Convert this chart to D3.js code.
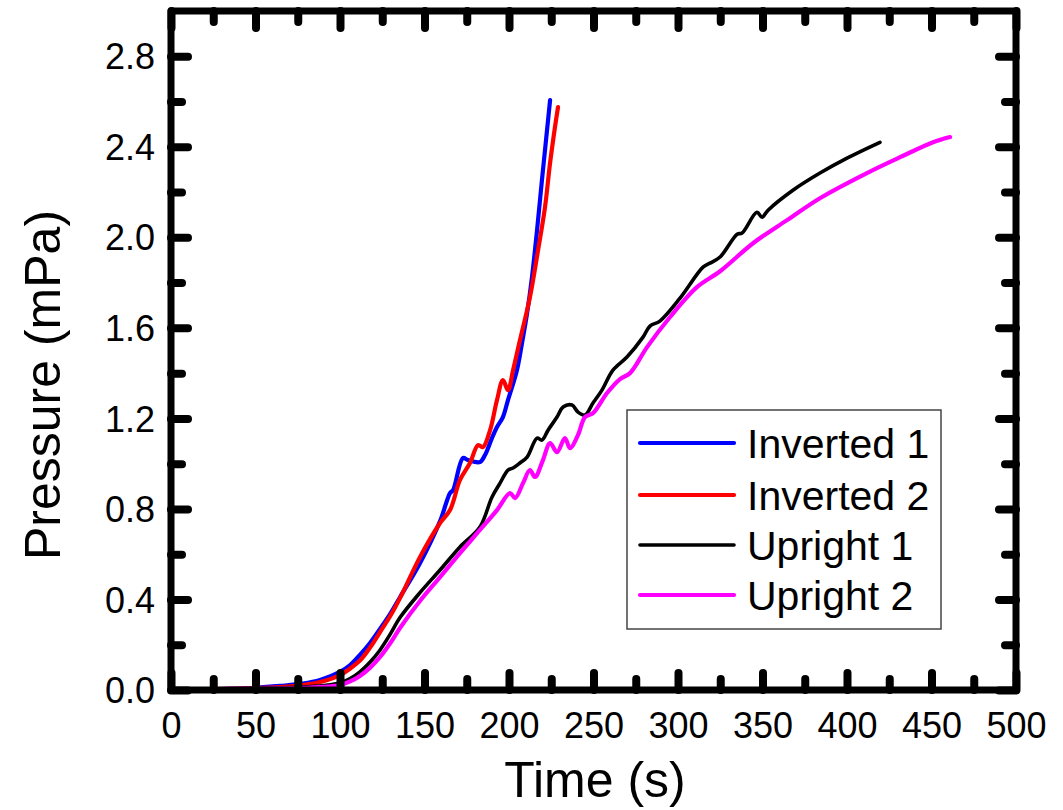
<!DOCTYPE html>
<html>
<head>
<meta charset="utf-8">
<script src="https://cdn.jsdelivr.net/npm/d3@7"></script>
<style>
  html, body { margin: 0; padding: 0; background: #fff; }
  svg { display: block; }
  text { font-family: "Liberation Sans", Arial, sans-serif; fill: #000; }
</style>
</head>
<body>
<svg id="chart" width="1063" height="810"></svg>
<script>
// ---- data (time in s, pressure in mPa) ----
const seriesNames = ["Inverted 1", "Inverted 2", "Upright 1", "Upright 2"];
const seriesColors = ["#0000ff", "#ff0000", "#000000", "#ff00ff"];

const inverted1 = [
  [26,0.004],[50,0.01],[64.5,0.018],[78,0.028],[88.2,0.044],[100,0.08],[106,0.11],[111.8,0.155],
  [118,0.21],[123.7,0.27],[130,0.34],
  [135.5,0.41],[147.3,0.56],[159.2,0.746],[165.1,0.87],[166.9,0.883],[172.8,1.025],
  [175.7,1.016],[182.8,1.007],[185.8,1.038],[189.9,1.113],[192.9,1.162],[196.4,1.206],
  [199.4,1.281],[204.7,1.413],[207.7,1.533],[210.7,1.665],[213.6,1.824],[216.6,2.032],
  [219.5,2.253],[222.5,2.473],[224.3,2.606]
];
const inverted2 = [
  [26,0.004],[50,0.008],[64.5,0.013],[78,0.022],[88.2,0.035],[100,0.066],[106,0.095],[111.8,0.13],
  [118,0.19],[123.7,0.256],[130,0.33],
  [135.5,0.406],[147.3,0.587],[159.2,0.738],[165.1,0.795],[171,0.928],[176.9,1.003],
  [181.7,1.082],[184.6,1.073],[188.8,1.148],[192.9,1.281],[196.4,1.369],[199.4,1.325],
  [202.4,1.413],[206.5,1.546],[212.4,1.736],[217.2,1.943],[221.3,2.133],[224.3,2.328],
  [227.2,2.487],[229,2.575]
];
const upright1 = [
  [26,0.004],[50,0.007],[76.3,0.013],[90,0.02],[100,0.031],[106,0.05],[111.8,0.08],[118,0.125],
  [123.7,0.177],[130,0.25],[135.5,0.32],
  [147.3,0.43],[159.2,0.53],[171,0.632],[182.8,0.72],[189.9,0.852],[194.7,0.914],
  [199.4,0.972],[202.4,0.981],[206.5,1.003],[210.7,1.029],[216.6,1.113],[219.5,1.104],
  [223.1,1.148],[228.4,1.206],[232,1.25],[237.3,1.259],[240.8,1.228],[245,1.215],
  [249.7,1.268],[255,1.325],[261.5,1.413],[269.8,1.471],[279.3,1.559],[283.4,1.608],
  [289.3,1.63],[301.2,1.731],[314.8,1.868],[318.9,1.886],[324.9,1.913],[335,2.014],
  [337.9,2.019],[346.7,2.111],[349.7,2.089],[353.3,2.12],[368,2.208],[384,2.284],
  [400,2.35],[419.5,2.42]
];
const upright2 = [
  [26,0.004],[50,0.006],[76.3,0.009],[90,0.014],[100,0.022],[106,0.038],[111.8,0.062],[118,0.1],
  [123.7,0.146],[130,0.21],[135.5,0.274],
  [147.3,0.393],[159.2,0.499],[171,0.605],[182.8,0.707],[192.9,0.795],[200.6,0.87],
  [203.6,0.848],[208.3,0.914],[212.4,0.972],[215.4,0.941],[220.1,1.016],[224.3,1.091],
  [228.4,1.051],[233.1,1.113],[236.1,1.069],[240.8,1.126],[245,1.206],[249.7,1.223],
  [258,1.312],[265.7,1.374],[271.6,1.4],[281.7,1.515],[295.3,1.648],[311.2,1.78],
  [324.9,1.85],[344.4,1.974],[364.5,2.076],[384,2.173],[411.8,2.284],[431.4,2.354],
  [450.9,2.42],[461,2.443]
];
const allSeries = [inverted1, inverted2, upright1, upright2];

const xMajorTicks = [0,50,100,150,200,250,300,350,400,450,500];
const xMinorTicks = [25,75,125,175,225,275,325,375,425,475];
const yMajorTicks = [0.0,0.4,0.8,1.2,1.6,2.0,2.4,2.8];
const yMinorTicks = [0.2,0.6,1.0,1.4,1.8,2.2,2.6];
const xTitle = "Time (s)";
const yTitle = "Pressure (mPa)";

// ---- layout ----
const L = 171, R = 1016, T = 11, B = 690;
const svg = d3.select("#chart");
const x = d3.scaleLinear().domain([0, 500]).range([L, R]);
const y = d3.scaleLinear().domain([0, 3.0]).range([B, T]);

const majorLen = 17, minorLen = 11;

function styleAxis(g, showLabels) {
  g.select(".domain").remove();
  g.selectAll(".tick line")
    .attr("stroke", "#000").attr("stroke-width", 8).attr("stroke-linecap", "round");
  if (!showLabels) g.selectAll(".tick text").remove();
  else g.selectAll(".tick text")
    .attr("font-family", "Liberation Sans, Arial, sans-serif")
    .attr("font-size", 36).attr("fill", "#000");
}

// ---- series ----
const line = d3.line().x(d => x(d[0])).y(d => y(d[1])).curve(d3.curveCatmullRom.alpha(0.5));
const plotG = svg.append("g");
allSeries.forEach((s, i) => {
  plotG.append("path")
    .datum(s)
    .attr("d", line)
    .attr("fill", "none")
    .attr("stroke", seriesColors[i])
    .attr("stroke-width", i === 2 ? 3.6 : 4.2)
    .attr("stroke-linejoin", "round")
    .attr("stroke-linecap", "round");
});

// ---- frame ----
svg.append("rect")
  .attr("x", L).attr("y", T).attr("width", R - L).attr("height", B - T)
  .attr("fill", "none").attr("stroke", "#000").attr("stroke-width", 7)
  .attr("stroke-linejoin", "round");

// ---- axes (ticks inward on all four sides) ----
svg.append("g").attr("transform", `translate(0,${B})`)
  .call(d3.axisBottom(x).tickValues(xMajorTicks).tickSize(-majorLen).tickPadding(0).tickFormat(d => String(d)))
  .call(g => styleAxis(g, true))
  .call(g => g.selectAll(".tick text").attr("y", 48).attr("dy", null));
svg.append("g").attr("transform", `translate(0,${B})`)
  .call(d3.axisBottom(x).tickValues(xMinorTicks).tickSize(-minorLen))
  .call(g => styleAxis(g, false));
svg.append("g").attr("transform", `translate(0,${T})`)
  .call(d3.axisTop(x).tickValues(xMajorTicks).tickSize(-majorLen))
  .call(g => styleAxis(g, false));
svg.append("g").attr("transform", `translate(0,${T})`)
  .call(d3.axisTop(x).tickValues(xMinorTicks).tickSize(-minorLen))
  .call(g => styleAxis(g, false));
svg.append("g").attr("transform", `translate(${L},0)`)
  .call(d3.axisLeft(y).tickValues(yMajorTicks).tickSize(-majorLen).tickPadding(0).tickFormat(d3.format(".1f")))
  .call(g => styleAxis(g, true))
  .call(g => g.selectAll(".tick text").attr("x", -16).attr("dy", "0.35em"));
svg.append("g").attr("transform", `translate(${L},0)`)
  .call(d3.axisLeft(y).tickValues(yMinorTicks).tickSize(-minorLen))
  .call(g => styleAxis(g, false));
svg.append("g").attr("transform", `translate(${R},0)`)
  .call(d3.axisRight(y).tickValues(yMajorTicks).tickSize(-majorLen))
  .call(g => styleAxis(g, false));
svg.append("g").attr("transform", `translate(${R},0)`)
  .call(d3.axisRight(y).tickValues(yMinorTicks).tickSize(-minorLen))
  .call(g => styleAxis(g, false));

// ---- axis titles ----
svg.append("text").attr("x", 595).attr("y", 797).attr("text-anchor", "middle")
  .attr("font-size", 50).text(xTitle);
svg.append("text").attr("transform", "translate(60,385) rotate(-90)")
  .attr("text-anchor", "middle").attr("font-size", 50).text(yTitle);

// ---- legend ----
const lg = svg.append("g");
lg.append("rect").attr("x", 627).attr("y", 410).attr("width", 314).attr("height", 219)
  .attr("fill", "#fff").attr("stroke", "#444").attr("stroke-width", 1.5);
const legendY = [443, 495, 545, 595];
seriesNames.forEach((n, i) => {
  lg.append("line").attr("x1", 640).attr("x2", 734).attr("y1", legendY[i]).attr("y2", legendY[i])
    .attr("stroke", seriesColors[i]).attr("stroke-width", i === 2 ? 3.6 : 4.2)
    .attr("stroke-linecap", "round");
  lg.append("text").attr("x", 747).attr("y", legendY[i] + 15)
    .attr("font-size", 41).text(n);
});
</script>
</body>
</html>
